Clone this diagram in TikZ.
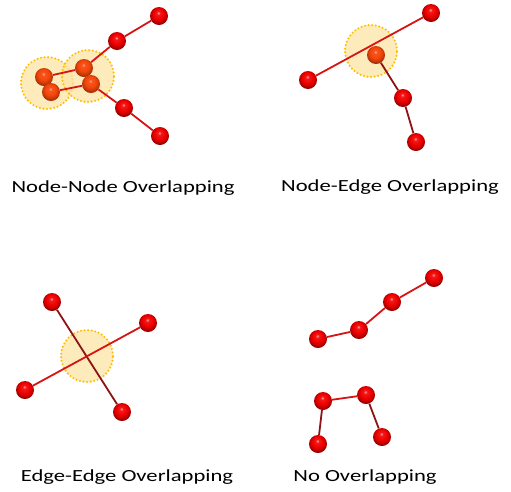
\documentclass[tikz,border=0pt]{standalone}
\usepackage{fontspec}
\setmainfont{Carlito}
\usepackage{tikz}
\usetikzlibrary{backgrounds}
\definecolor{halofill}{RGB}{253,228,165}
\definecolor{halodot}{RGB}{255,190,0}
\definecolor{linkred}{RGB}{215,20,20}
\definecolor{linkdark}{RGB}{140,20,20}
\definecolor{ballred}{RGB}{240,0,0}
\definecolor{ballhot}{RGB}{245,70,10}
\pgfdeclareradialshading{redball}{\pgfpoint{-2bp}{9bp}}{%
  color(0bp)=(ballred!35!white); color(5bp)=(ballred!90!white);
  color(15bp)=(ballred); color(23bp)=(ballred!78!black);
  color(28bp)=(ballred!55!black); color(50bp)=(ballred!55!black)}
\pgfdeclareradialshading{hotball}{\pgfpoint{-2bp}{9bp}}{%
  color(0bp)=(ballhot!45!white); color(5bp)=(ballhot!92!white);
  color(15bp)=(ballhot); color(23bp)=(ballhot!80!black);
  color(28bp)=(ballhot!60!black); color(50bp)=(ballhot!60!black)}
\tikzset{
    vertex/.style={circle, inner sep=0pt, minimum size=18pt, shading=redball},
    hotvertex/.style={vertex, shading=hotball},
    halo/.style={circle, inner sep=0pt, minimum size=52pt, fill=halofill, fill opacity=0.75,
                 draw=halodot, line width=2.3pt, line cap=round, dash pattern=on 0pt off 3.6pt},
    link/.style={draw=linkred, line width=1.8pt},
    darklink/.style={draw=linkdark, line width=1.8pt},
    caption/.style={anchor=base, inner sep=0pt}
}
\newcommand{\capt}[1]{\scalebox{1.33}[1]{\fontsize{17}{20}\selectfont #1}}

\begin{document}
\begin{tikzpicture}
  [
    x = 1pt,
    y = -1pt,
  ]
  \useasboundingbox (0,0) rectangle (511,491);

  % node-node
  \node [vertex]    (nnA) at (159,16) {};
  \node [vertex]    (nnB) at (117,41) {};
  \node [hotvertex] (nnC) at (84,68) {};
  \node [hotvertex] (nnD) at (91,84) {};
  \node [hotvertex] (nnE) at (44,77) {};
  \node [hotvertex] (nnF) at (51,92) {};
  \node [vertex]    (nnG) at (124,108) {};
  \node [vertex]    (nnH) at (160,136) {};
  \begin{scope}[on background layer]
    \node [halo] (nnhaloA) at (47,83) {};
    \node [halo] (nnhaloB) at (88,76) {};
    \draw [link] (nnA) -- (nnB) -- (nnC) -- (nnE);
    \draw [link] (nnF) -- (nnD) -- (nnG) -- (nnH);
  \end{scope}
  \node [caption] (nncap) at (123,192) {\capt{Node-Node Overlapping}};

  % node-edge
  \node [vertex]    (neA) at (431,13) {};
  \node [vertex]    (neB) at (308,80) {};
  \node [hotvertex] (neC) at (376,55) {};
  \node [vertex]    (neD) at (403,98) {};
  \node [vertex]    (neE) at (416,142) {};
  \begin{scope}[on background layer]
    \node [halo] (nehalo) at (371,51) {};
    \draw [link] (neA) -- (neB);
    \draw [darklink] (neC) -- (neD) -- (neE);
  \end{scope}
  \node [caption] (necap) at (390,191) {\capt{Node-Edge Overlapping}};

  % edge-edge
  \node [vertex] (eeA) at (52,302) {};
  \node [vertex] (eeB) at (148,323) {};
  \node [vertex] (eeC) at (25,390) {};
  \node [vertex] (eeD) at (122,412) {};
  \begin{scope}[on background layer]
    \node [halo] (eehalo) at (87,356) {};
    \draw [darklink] (eeA) -- (eeD);
    \draw [link] (eeC) -- (eeB);
  \end{scope}
  \node [caption] (eecap) at (127,481) {\capt{Edge-Edge Overlapping}};

  % no overlap
  \node [vertex] (noA) at (434,278) {};
  \node [vertex] (noB) at (392,302) {};
  \node [vertex] (noC) at (359,330) {};
  \node [vertex] (noD) at (318,339) {};
  \node [vertex] (noE) at (323,401) {};
  \node [vertex] (noF) at (366,395) {};
  \node [vertex] (noG) at (318,444) {};
  \node [vertex] (noH) at (382,437) {};
  \begin{scope}[on background layer]
    \draw [link] (noA) -- (noB) -- (noC) -- (noD);
    \draw [darklink] (noG) -- (noE);
    \draw [link] (noE) -- (noF);
    \draw [darklink] (noF) -- (noH);
  \end{scope}
  \node [caption] (nocap) at (365,481) {\capt{No Overlapping}};
\end{tikzpicture}
\end{document}
